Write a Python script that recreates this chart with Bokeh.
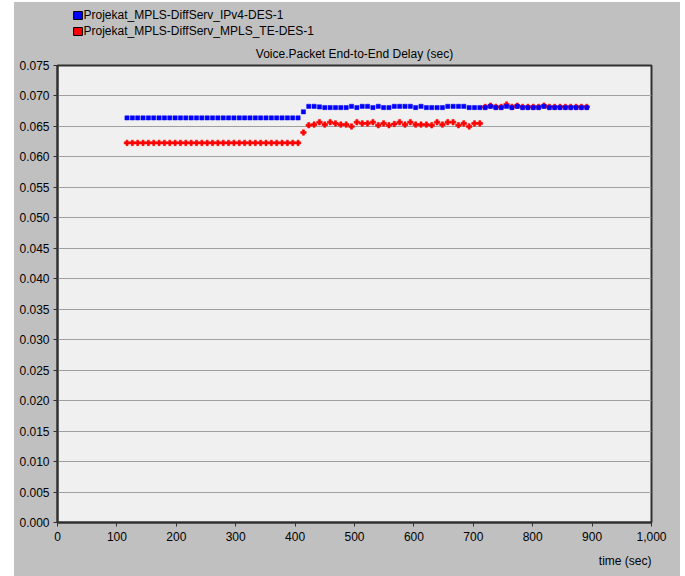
from bokeh.plotting import figure
from bokeh.models import (ColumnDataSource, Legend, LegendItem, NumeralTickFormatter,
                          FixedTicker, Range1d, Title, Spacer)
from bokeh.layouts import row, column
from bokeh.embed import file_html
from bokeh.resources import INLINE

# ---- data ----
time_s = [117, 126, 135, 144, 153, 162, 171, 180, 189, 198, 207, 216, 225, 234, 243,
          252, 261, 270, 279, 288, 297, 306, 315, 324, 333, 342, 351, 360, 369, 378,
          387, 396, 405, 414, 423, 432, 441, 450, 459, 468, 477, 486, 495, 504, 513,
          522, 531, 540, 549, 558, 567, 576, 585, 594, 603, 612, 621, 630, 639, 648,
          657, 666, 675, 684, 693, 702, 711, 720, 729, 738, 747, 756, 765, 774, 783,
          792, 801, 810, 819, 828, 837, 846, 855, 864, 873, 882, 891]

ipv4_delay = [0.0664] * 33 + [0.0674] + [
    0.0683, 0.0683, 0.0682, 0.0681, 0.0681, 0.0681, 0.0681, 0.0681, 0.0683, 0.0681,
    0.0683, 0.0683, 0.0681, 0.0683, 0.0681, 0.0681, 0.0683, 0.0683, 0.0683, 0.0683,
    0.0681, 0.0683, 0.0681, 0.0681, 0.0681, 0.0681, 0.0683, 0.0683, 0.0683, 0.0683,
    0.0681, 0.0681, 0.0681, 0.0681, 0.0683, 0.0681, 0.0681, 0.0683, 0.0681, 0.0683,
    0.0681, 0.0681, 0.0681, 0.0681, 0.0683, 0.0681, 0.0681, 0.0681, 0.0681, 0.0681,
    0.0681, 0.0681, 0.0681]

te_delay = [0.0623] * 33 + [0.0640] + [
    0.0652, 0.0653, 0.0657, 0.0653, 0.0657, 0.0655, 0.0653, 0.0653, 0.0650, 0.0657,
    0.0655, 0.0655, 0.0657, 0.0652, 0.0655, 0.0652, 0.0654, 0.0657, 0.0653, 0.0657,
    0.0653, 0.0653, 0.0653, 0.0652, 0.0657, 0.0653, 0.0657, 0.0657, 0.0652, 0.0655,
    0.0650, 0.0655, 0.0655,
    0.0682, 0.0684, 0.0682, 0.0682, 0.0686, 0.0682, 0.0684, 0.0682, 0.0682, 0.0682,
    0.0682, 0.0684, 0.0682, 0.0682, 0.0682, 0.0682, 0.0682, 0.0682, 0.0682, 0.0682]

series_names = ["Projekat_MPLS-DiffServ_IPv4-DES-1", "Projekat_MPLS-DiffServ_MPLS_TE-DES-1"]
chart_title = "Voice.Packet End-to-End Delay (sec)"
x_label = "time (sec)"
x_ticks = [0, 100, 200, 300, 400, 500, 600, 700, 800, 900, 1000]
y_ticks = [0.000, 0.005, 0.010, 0.015, 0.020, 0.025, 0.030, 0.035, 0.040,
           0.045, 0.050, 0.055, 0.060, 0.065, 0.070, 0.075]

FONT = "Liberation Sans"
FS = "12px"
BG = "#c0c0c0"
NAN = float("nan")

# ---------- main chart ----------
p = figure(width=666, height=538, output_backend="svg", toolbar_location=None,
           x_range=Range1d(0, 1000), y_range=Range1d(0, 0.075),
           min_border_left=43, min_border_right=29, min_border_top=27, min_border_bottom=53)

p.background_fill_color = "#f0f0f0"
p.border_fill_color = BG
p.outline_line_color = "#303030"
p.outline_line_width = 2

p.title.text = chart_title
p.title.align = "center"
p.title.text_font = FONT
p.title.text_font_size = FS
p.title.text_font_style = "normal"
p.title.text_color = "black"

for ax in (p.xaxis[0], p.yaxis[0]):
    ax.axis_line_color = "#303030"
    ax.axis_line_width = 2
    ax.major_tick_line_color = "#303030"
    ax.major_tick_out = 4
    ax.major_tick_in = 0
    ax.minor_tick_out = 0
    ax.minor_tick_in = 0
    ax.major_label_text_font = FONT
    ax.major_label_text_font_size = FS
    ax.major_label_text_color = "black"
    ax.major_label_standoff = 4
p.xaxis.major_label_standoff = 5

p.xaxis.ticker = FixedTicker(ticks=x_ticks)
p.yaxis.ticker = FixedTicker(ticks=y_ticks)
p.xaxis.formatter = NumeralTickFormatter(format="0,0")
p.yaxis.formatter = NumeralTickFormatter(format="0.000")

p.xgrid.visible = False
p.ygrid.ticker = FixedTicker(ticks=y_ticks)
p.ygrid.grid_line_color = "#a0a0a0"
p.ygrid.grid_line_width = 1

p.add_layout(Title(text=x_label, align="right", text_font=FONT, text_font_size=FS,
                   text_font_style="normal", text_color="black", standoff=17), "below")

src = ColumnDataSource(dict(t=time_s, ipv4=ipv4_delay, te=te_delay))
p.scatter("t", "te", source=src, marker="plus", size=5.5, fill_color="#ff0000",
          line_color="#ff0000", line_width=0.6)
p.scatter("t", "ipv4", source=src, marker="square", size=4.2, fill_color="#0000ff",
          line_color="#0000ff", line_width=0.5)

# ---------- legend strip above the chart ----------
lg = figure(width=666, height=36, output_backend="svg", toolbar_location=None,
            x_range=Range1d(0, 1), y_range=Range1d(0, 1),
            x_axis_type=None, y_axis_type=None,
            min_border_left=0, min_border_right=0, min_border_top=0, min_border_bottom=0)
lg.background_fill_alpha = 0
lg.border_fill_alpha = 0
lg.outline_line_color = None

# swatch renderers: NaN geometry, so they only appear inside the legend
sw1 = lg.quad(left=[NAN], right=[NAN], bottom=[NAN], top=[NAN],
              fill_color="#0000ff", line_color="black")
sw2 = lg.quad(left=[NAN], right=[NAN], bottom=[NAN], top=[NAN],
              fill_color="#ff0000", line_color="black")

legend = Legend(items=[LegendItem(label=series_names[0], renderers=[sw1]),
                       LegendItem(label=series_names[1], renderers=[sw2])],
                location=(14.5, 0), orientation="vertical",
                glyph_width=11, glyph_height=10, label_height=10, spacing=2,
                padding=0, margin=0, label_standoff=1,
                background_fill_alpha=0, border_line_color=None,
                label_text_font=FONT, label_text_font_size=FS, label_text_color="black")
lg.add_layout(legend)

layout = column(Spacer(width=680, height=2),
                row(Spacer(width=14, height=574),
                    column(lg, p, styles={"background-color": BG})))
open("out.html", "w").write(file_html(layout, INLINE))
